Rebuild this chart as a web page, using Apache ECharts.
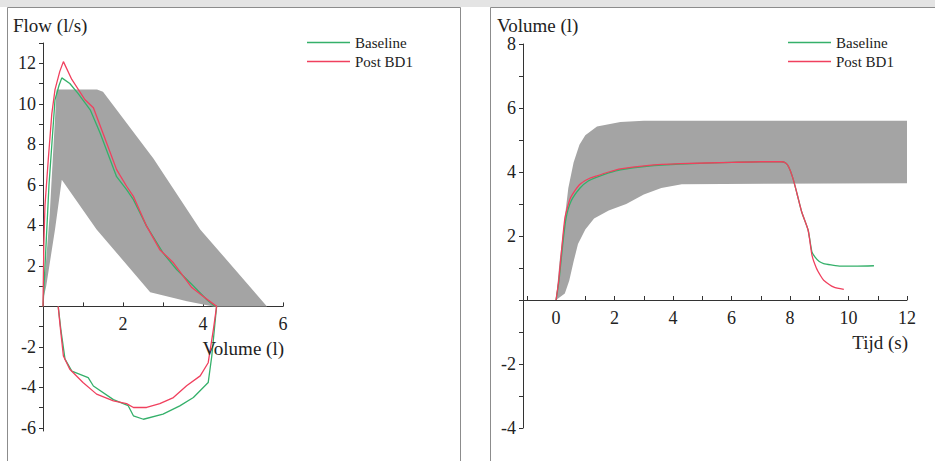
<!DOCTYPE html>
<html>
<head>
<meta charset="utf-8">
<script src="https://cdn.jsdelivr.net/npm/echarts@6/dist/echarts.min.js"></script>
<style>
  html, body { margin: 0; padding: 0; background: #fff; }
  #chart { width: 935px; height: 461px; }
</style>
</head>
<body>
<div id="chart"></div>
<script>
// flow-volume loop (links)
const bandVol = [0, 0.17, 0.34, 1.35, 1.5, 2.76, 3.93, 5.6, 4.26, 3.6, 2.68, 1.34, 0.47, 0.3, 0.08];
const bandFlow = [0.3, 4.6, 10.7, 10.7, 10.6, 7.3, 3.8, 0, 0, 0.26, 0.7, 3.8, 6.25, 3.8, 1.0];

const baseVol = [0, 0.05, 0.15, 0.3, 0.4, 0.47, 0.67, 0.88, 1.18, 1.43, 1.84, 2.09, 2.26, 2.59, 3.0, 3.34, 3.68, 4.09, 4.26, 4.34,
  4.3, 4.22, 4.13, 3.76, 3.42, 3.0, 2.51, 2.26, 2.13, 1.76, 1.26, 1.13, 0.72, 0.55, 0.45, 0.38];
const baseFlow = [0, 2.0, 6.0, 10.2, 10.9, 11.28, 11.0, 10.5, 9.7, 8.55, 6.4, 5.76, 5.27, 3.96, 2.64, 1.82, 1.17, 0.34, 0.05, 0,
  -0.8, -2.45, -3.76, -4.5, -4.91, -5.32, -5.57, -5.4, -4.9, -4.6, -3.93, -3.52, -3.19, -2.6, -1.2, 0];

const postVol = [0, 0.02, 0.05, 0.13, 0.22, 0.3, 0.42, 0.51, 0.72, 1.05, 1.26, 1.5, 1.84, 2.09, 2.26, 2.59, 2.92, 3.26, 3.72, 4.0, 4.34,
  4.26, 4.13, 3.93, 3.59, 3.26, 2.92, 2.59, 2.26, 2.09, 1.76, 1.34, 1.0, 0.67, 0.51, 0.43, 0.38];
const postFlow = [0, 3.0, 5.0, 7.2, 9.5, 10.7, 11.6, 12.08, 11.2, 10.2, 9.8, 8.55, 6.75, 5.93, 5.43, 3.96, 2.8, 2.15, 0.93, 0.5, 0,
  -1.13, -2.78, -3.43, -3.92, -4.5, -4.8, -4.99, -4.99, -4.8, -4.66, -4.33, -3.76, -3.1, -2.45, -1.0, 0];

// volume-tijd (rechts)
const bandTime = [0, 0.12, 0.25, 0.42, 0.6, 0.8, 1.0, 1.4, 2.2, 3.0, 12,
  12, 4.3, 3.6, 3.0, 2.4, 1.8, 1.3, 1.0, 0.75, 0.6, 0.45, 0.3];
const bandVolT = [0, 1.2, 2.2, 3.5, 4.3, 4.85, 5.15, 5.42, 5.56, 5.6, 5.6,
  3.65, 3.62, 3.5, 3.3, 3.0, 2.8, 2.55, 2.2, 1.75, 1.2, 0.6, 0.2];

const baseTime = [0, 0.1, 0.22, 0.34, 0.52, 0.82, 1.1, 1.4, 1.8, 2.2, 3.1, 4.25, 6.0, 7.0, 7.7, 7.85, 7.96, 8.1, 8.24, 8.4,
  8.62, 8.75, 8.85, 9.0, 9.15, 9.4, 9.73, 10.3, 10.87];
const baseVolT = [0, 0.6, 1.66, 2.55, 3.1, 3.5, 3.72, 3.84, 3.97, 4.07, 4.18, 4.25, 4.3, 4.32, 4.32, 4.28, 4.15, 3.8, 3.32, 2.75,
  2.18, 1.5, 1.35, 1.2, 1.14, 1.1, 1.06, 1.06, 1.07];

const postTime = [0, 0.09, 0.2, 0.31, 0.5, 0.8, 1.1, 1.4, 1.8, 2.2, 3.1, 4.25, 6.0, 7.0, 7.7, 7.85, 7.96, 8.1, 8.24, 8.4,
  8.62, 8.75, 8.9, 9.05, 9.15, 9.5, 9.84];
const postVolT = [0, 0.6, 1.66, 2.6, 3.2, 3.6, 3.78, 3.88, 4.0, 4.1, 4.2, 4.26, 4.3, 4.32, 4.32, 4.28, 4.15, 3.8, 3.32, 2.75,
  2.18, 1.4, 1.0, 0.75, 0.62, 0.4, 0.33];

const leftXTicks = [1, 2, 3, 4, 5, 6];
const leftXLabels = [2, 4, 6];
const leftYTicks = [-6, -5, -4, -3, -2, -1, 0, 1, 2, 3, 4, 5, 6, 7, 8, 9, 10, 11, 12, 13];
const leftYLabels = [-6, -4, -2, 2, 4, 6, 8, 10, 12];
const rightXTicks = [-1, 0, 1, 2, 3, 4, 5, 6, 7, 8, 9, 10, 11, 12];
const rightXLabels = [0, 2, 4, 6, 8, 10, 12];
const rightYTicks = [-4, -3, -2, -1, 0, 1, 2, 3, 4, 5, 6, 7, 8];
const rightYLabels = [-4, -2, 2, 4, 6, 8];

const green = '#34b06a';
const red = '#f0405e';
const font = 'Liberation Serif';

function zip(a, b) {
  return a.map((v, i) => [v, b[i]]);
}

function axis(ticks, labels, inside, extra) {
  return Object.assign({
    type: 'value',
    splitLine: { show: false },
    axisLine: { onZero: false, lineStyle: { color: '#333', width: 1 } },
    axisTick: { customValues: ticks, inside: inside, length: 4, lineStyle: { color: '#333' } },
    axisLabel: { customValues: labels, fontFamily: font, fontSize: 18, color: '#222', margin: inside ? 9 : 7 }
  }, extra);
}

function band(xs, ys, xi) {
  return {
    type: 'custom',
    xAxisIndex: xi, yAxisIndex: xi,
    silent: true,
    z: 1,
    data: [[xs[0], ys[0]]],
    renderItem: function (params, api) {
      return {
        type: 'polygon',
        shape: { points: xs.map((v, i) => api.coord([v, ys[i]])) },
        style: { fill: '#a4a4a4' }
      };
    }
  };
}

function line(name, data, color, xi, smooth) {
  return {
    name: name, type: 'line', xAxisIndex: xi, yAxisIndex: xi,
    data: data, symbol: 'none', smooth: smooth,
    lineStyle: { color: color, width: 1.3 },
    itemStyle: { color: color },
    z: 3
  };
}

function legend(left) {
  return {
    left: left, top: 30, orient: 'vertical',
    icon: 'rect', itemWidth: 43, itemHeight: 1.5, itemGap: 4,
    selectedMode: false,
    textStyle: { fontFamily: font, fontSize: 15, color: '#222', lineHeight: 15 },
    data: ['Baseline', 'Post BD1']
  };
}

function label(text, x, y, align) {
  return {
    type: 'text', x: x, y: y, z: 10,
    style: { text: text, font: '19px "Liberation Serif"', fill: '#222', align: align, verticalAlign: 'middle' }
  };
}

// x-as op flow/volume = 0: afstand van gridonderkant tot de nullijn
const leftZeroOffset = -388 * 6.15 / 19.15;
const rightZeroOffset = -384 * 4 / 12;

const chart = echarts.init(document.getElementById('chart'), null, { renderer: 'svg' });
chart.setOption({
  animation: false,
  backgroundColor: '#fff',
  grid: [
    { left: 43, top: 43, width: 240, height: 388 },
    { left: 523, top: 44, width: 384, height: 384 }
  ],
  xAxis: [
    axis(leftXTicks, leftXLabels, true, { gridIndex: 0, min: 0, max: 6, offset: leftZeroOffset }),
    axis(rightXTicks, rightXLabels, true, { gridIndex: 1, min: -1.13, max: 12, offset: rightZeroOffset })
  ],
  yAxis: [
    axis(leftYTicks, leftYLabels, false, { gridIndex: 0, min: -6.15, max: 13 }),
    axis(rightYTicks, rightYLabels, false, { gridIndex: 1, min: -4, max: 8 })
  ],
  legend: [legend(302), legend(783)],
  graphic: [
    { type: 'rect', shape: { x: 0, y: 0, width: 935, height: 7 }, style: { fill: '#e4e4e4' }, z: 0 },
    { type: 'rect', shape: { x: 7.5, y: 7.5, width: 453, height: 470 }, style: { fill: 'none', stroke: '#8c8c8c', lineWidth: 1 }, z: 0 },
    { type: 'rect', shape: { x: 490.5, y: 7.5, width: 460, height: 470 }, style: { fill: 'none', stroke: '#8c8c8c', lineWidth: 1 }, z: 0 },
    label('Flow (l/s)', 13, 25, 'left'),
    label('Volume (l)', 284, 348, 'right'),
    label('Volume (l)', 497, 25, 'left'),
    label('Tijd (s)', 908, 342, 'right')
  ],
  series: [
    band(bandVol, bandFlow, 0),
    line('Baseline', zip(baseVol, baseFlow), green, 0, false),
    line('Post BD1', zip(postVol, postFlow), red, 0, false),
    band(bandTime, bandVolT, 1),
    line('Baseline', zip(baseTime, baseVolT), green, 1, 0.2),
    line('Post BD1', zip(postTime, postVolT), red, 1, 0.2)
  ]
});
</script>
</body>
</html>
